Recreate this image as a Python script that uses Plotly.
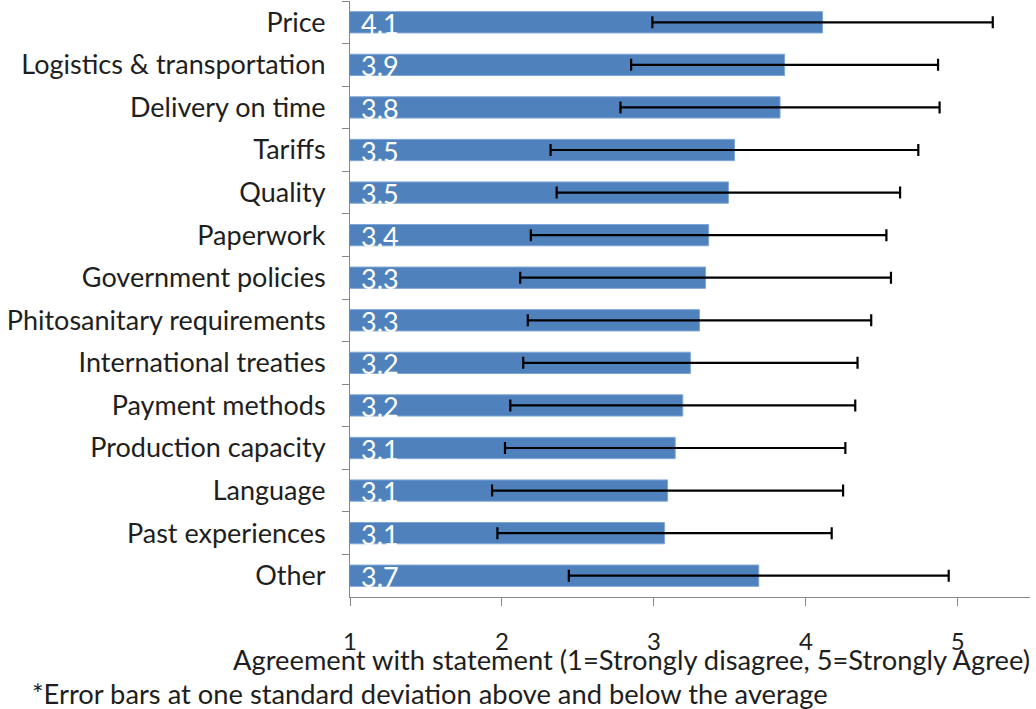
import plotly.graph_objects as go

categories = [
    "Price", "Logistics & transportation", "Delivery on time", "Tariffs",
    "Quality", "Paperwork", "Government policies", "Phitosanitary requirements",
    "International treaties", "Payment methods", "Production capacity",
    "Language", "Past experiences", "Other",
]
means = [4.11, 3.86, 3.83, 3.53, 3.49, 3.36, 3.34, 3.30, 3.24, 3.19, 3.14, 3.09, 3.07, 3.69]
std_devs = [1.12, 1.01, 1.05, 1.21, 1.13, 1.17, 1.22, 1.13, 1.10, 1.135, 1.12, 1.155, 1.10, 1.25]
x_ticks = [1, 2, 3, 4, 5]
x_title = "Agreement with statement (1=Strongly disagree, 5=Strongly Agree)"
footnote = "*Error bars at one standard deviation above and below the average"

X_MIN, X_MAX = 1, 5.475
FONT = "Lato"
FS = 27
TEXT_COLOR = "#1e1e1e"
AXIS_COLOR = "#868686"

fig = go.Figure()
fig.add_trace(go.Bar(
    y=categories, x=means, orientation="h",
    marker=dict(color="#4F81BD", line=dict(color="#7FA6D6", width=1)),
    error_x=dict(type="data", array=std_devs, color="black", thickness=2.2, width=6),
    hoverinfo="x+y",
))

annotations = []
for c, m in zip(categories, means):
    annotations.append(dict(
        x=X_MIN, y=c, xref="x", yref="y", text=f"{m:.1f}", showarrow=False,
        xanchor="left", yanchor="middle", xshift=9, yshift=-1,
        font=dict(family=FONT, size=FS, color="white"),
    ))
annotations.append(dict(
    x=1.0, y=0, xref="paper", yref="paper", text=x_title, showarrow=False,
    xanchor="right", yanchor="top", yshift=-44, xshift=2,
    font=dict(family=FONT, size=27.3, color=TEXT_COLOR),
))
annotations.append(dict(
    x=0, y=0, xref="paper", yref="paper", text=footnote, showarrow=False,
    xanchor="left", yanchor="top", yshift=-78, xshift=-320,
    font=dict(family=FONT, size=27.3, color=TEXT_COLOR),
))

fig.update_layout(
    width=1036, height=709,
    margin=dict(l=350, r=6, t=1, b=112),
    paper_bgcolor="white", plot_bgcolor="white",
    showlegend=False,
    bargap=0.5,
    font=dict(family=FONT, size=FS, color=TEXT_COLOR),
    annotations=annotations,
    xaxis=dict(
        range=[X_MIN, X_MAX], tickvals=x_ticks, ticktext=[str(t) for t in x_ticks],
        showgrid=False, zeroline=False, showline=True, linecolor=AXIS_COLOR, linewidth=1,
        ticks="outside", ticklen=8, tickcolor=AXIS_COLOR, ticklabelstandoff=15,
        tickfont=dict(family=FONT, size=24, color=TEXT_COLOR), automargin=False,
    ),
    yaxis=dict(
        autorange="reversed", categoryorder="array", categoryarray=categories,
        showgrid=False, zeroline=False, showline=True, linecolor=AXIS_COLOR, linewidth=1,
        ticks="outside", ticklen=7, tickcolor=AXIS_COLOR, tickson="boundaries",
        ticklabelstandoff=18, automargin=False,
        tickfont=dict(family=FONT, size=FS, color=TEXT_COLOR),
    ),
)

fig.write_html("out.html", post_script="document.body.style.margin='0';",
               config={"displayModeBar": False})
